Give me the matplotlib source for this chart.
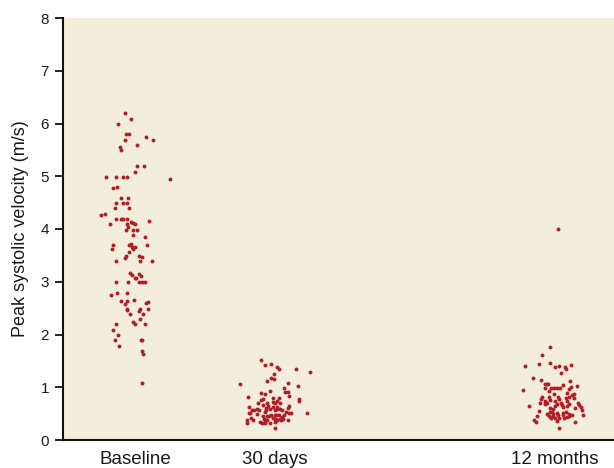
import matplotlib
matplotlib.use("Agg")
import matplotlib.pyplot as plt
import numpy as np

categories = ["Baseline", "30 days", "12 months"]
cat_positions = [0, 1, 3]

# Baseline: (jitter offset, peak systolic velocity m/s)
baseline_dx = [-0.074, -0.031, -0.121, -0.064, -0.045, 0.079, -0.069, 0.131, 0.016, -0.107,
               -0.102, 0.016, 0.064, 0.002, -0.207, -0.136, -0.084, -0.059, 0.25, -0.126,
               -0.155, -0.102, -0.048, -0.136, -0.084, -0.055, -0.145, -0.045, -0.245, -0.216,
               -0.136, -0.098, -0.084, -0.059, 0.098, -0.026, -0.012, 0.002, -0.176, -0.055,
               -0.05, -0.064, -0.012, 0.016, -0.016, 0.074, -0.155, -0.026, 0.084, -0.041,
               -0.164, -0.021, -0.012, 0.002, -0.041, -0.064, -0.074, 0.026, 0.05, -0.136,
               0.036, 0.121, -0.036, 0.031, -0.021, -0.002, 0.045, 0.006, -0.136, -0.05,
               0.031, 0.05, 0.074, -0.131, -0.059, -0.169, -0.098, -0.059, -0.074, -0.007,
               0.079, 0.093, -0.059, -0.055, 0.036, 0.026, 0.093, -0.036, 0.059, 0.036,
               -0.012, 0.002, 0.074, -0.136, -0.159, -0.121, -0.141, 0.041, 0.05, -0.116,
               0.05, 0.059, 0.05]
baseline_v = [6.19, 6.09, 5.99, 5.80, 5.80, 5.74, 5.69, 5.69, 5.59, 5.56,
              5.49, 5.19, 5.19, 5.09, 4.99, 4.99, 4.99, 4.99, 4.94, 4.79,
              4.77, 4.59, 4.59, 4.49, 4.49, 4.49, 4.39, 4.39, 4.27, 4.29,
              4.19, 4.19, 4.19, 4.19, 4.15, 4.13, 4.11, 4.09, 4.09, 4.09,
              4.04, 3.99, 3.99, 3.99, 3.89, 3.85, 3.70, 3.72, 3.70, 3.69,
              3.63, 3.65, 3.62, 3.65, 3.57, 3.49, 3.45, 3.49, 3.46, 3.40,
              3.39, 3.39, 3.17, 3.15, 3.12, 3.08, 3.11, 3.07, 2.99, 2.99,
              2.99, 2.99, 2.99, 2.79, 2.79, 2.75, 2.63, 2.63, 2.58, 2.65,
              2.59, 2.61, 2.49, 2.46, 2.49, 2.45, 2.49, 2.38, 2.39, 2.29,
              2.24, 2.19, 2.20, 2.19, 2.09, 2.00, 1.89, 1.89, 1.89, 1.79,
              1.69, 1.63, 1.09]

days30_dx = [-0.098, -0.074, -0.031, 0.012, 0.026, 0.15, 0.25, -0.007, -0.026, -0.007,
             -0.25, -0.059, 0.093, 0.164, 0.064, -0.036, 0.069, 0.093, -0.098, -0.069,
             0.098, -0.193, -0.012, 0.026, -0.084, -0.102, -0.059, -0.121, -0.012, 0.002,
             0.016, 0.036, 0.174, 0.169, -0.084, -0.05, -0.064, 0.102, 0.093, -0.188,
             -0.012, 0.016, -0.15, -0.131, -0.164, -0.112, -0.036, -0.002, 0.012, 0.036,
             0.05, -0.179, -0.188, -0.126, -0.064, -0.074, 0.079, 0.098, 0.112, 0.226,
             -0.084, -0.059, -0.041, -0.031, -0.002, 0.012, 0.026, 0.05, 0.064, -0.169,
             -0.159, -0.079, -0.074, -0.059, -0.016, 0.002, 0.016, 0.036, 0.055, 0.045,
             0.093, -0.198, -0.198, -0.107, -0.093, -0.074, -0.036, -0.002, 0.012, 0.002]
days30_v = [1.52, 1.42, 1.44, 1.39, 1.35, 1.34, 1.29, 1.25, 1.18, 1.16,
            1.07, 1.11, 1.09, 1.02, 0.99, 0.93, 0.91, 0.91, 0.90, 0.87,
            0.83, 0.82, 0.80, 0.80, 0.78, 0.75, 0.71, 0.70, 0.72, 0.71,
            0.73, 0.71, 0.77, 0.73, 0.66, 0.64, 0.61, 0.64, 0.61, 0.62,
            0.63, 0.63, 0.57, 0.58, 0.56, 0.56, 0.58, 0.56, 0.59, 0.59,
            0.56, 0.52, 0.51, 0.49, 0.57, 0.53, 0.53, 0.51, 0.51, 0.52,
            0.45, 0.45, 0.45, 0.47, 0.48, 0.47, 0.47, 0.44, 0.47, 0.42,
            0.38, 0.40, 0.37, 0.38, 0.42, 0.39, 0.37, 0.40, 0.39, 0.37,
            0.37, 0.37, 0.33, 0.34, 0.32, 0.33, 0.33, 0.34, 0.37, 0.23]

months12_dx = [-0.036, -0.093, -0.212, -0.112, -0.036, -0.002, 0.031, 0.074, 0.079, 0.116,
               0.045, -0.159, -0.102, 0.107, -0.069, -0.05, -0.059, 0.059, 0.159, -0.074,
               -0.026, -0.007, 0.012, 0.036, 0.102, 0.116, -0.231, -0.045, -0.007, 0.083,
               0.136, 0.121, 0.102, 0.079, -0.093, -0.098, -0.041, -0.036, 0.021, 0.031,
               0.136, -0.107, -0.074, -0.069, -0.059, 0.002, 0.012, -0.002, 0.045, 0.05,
               0.059, 0.083, 0.098, 0.088, 0.164, 0.174, 0.183, -0.188, -0.036, -0.012,
               -0.112, 0.141, 0.193, 0.202, -0.055, -0.036, -0.021, -0.012, 0.016, 0.055,
               0.079, 0.098, 0.121, -0.131, -0.15, -0.136, -0.041, -0.031, -0.016, -0.002,
               0.021, 0.026, 0.055, 0.064, 0.083, 0.102, 0.012, 0.145, 0.026, 0.021]
months12_v = [1.76, 1.61, 1.41, 1.44, 1.46, 1.38, 1.40, 1.38, 1.34, 1.43,
              1.27, 1.18, 1.14, 1.11, 1.07, 1.07, 1.06, 1.04, 1.02, 0.98,
              0.98, 0.98, 0.98, 0.98, 0.97, 1.00, 0.95, 0.92, 0.88, 0.90,
              0.88, 0.85, 0.82, 0.79, 0.82, 0.78, 0.82, 0.76, 0.82, 0.78,
              0.79, 0.70, 0.73, 0.69, 0.70, 0.74, 0.69, 0.64, 0.71, 0.66,
              0.63, 0.73, 0.68, 0.64, 0.70, 0.66, 0.63, 0.65, 0.61, 0.59,
              0.55, 0.60, 0.56, 0.47, 0.50, 0.53, 0.54, 0.49, 0.51, 0.51,
              0.53, 0.49, 0.47, 0.46, 0.38, 0.34, 0.46, 0.42, 0.45, 0.41,
              0.47, 0.42, 0.47, 0.42, 0.44, 0.46, 0.36, 0.34, 0.23, 4.00]

y_ticks = [0, 1, 2, 3, 4, 5, 6, 7, 8]
y_label = "Peak systolic velocity (m/s)"

dot_color = "#AE1F28"
bg_color = "#F3EEDB"

fig = plt.figure(figsize=(6.14, 4.68), dpi=100)
ax = fig.add_axes([63 / 614, 28 / 468, 551 / 614, 422 / 468])
ax.set_facecolor(bg_color)

groups = [(baseline_dx, baseline_v), (days30_dx, days30_v), (months12_dx, months12_v)]
for pos, (dx, v) in zip(cat_positions, groups):
    xs = pos + np.asarray(dx)
    ax.scatter(xs, v, s=8, color=dot_color, linewidths=0, zorder=3)

ax.set_xlim(-0.514, 3.421)
ax.set_ylim(0, 8)

for s in ["top", "right"]:
    ax.spines[s].set_visible(False)
for s in ["left", "bottom"]:
    ax.spines[s].set_linewidth(1.5)
    ax.spines[s].set_color("#111111")

ax.set_xticks(cat_positions)
ax.set_xticklabels(categories, fontsize=13.5, family=["Liberation Sans", "DejaVu Sans"], color="#1a1a1a")
ax.tick_params(axis="x", length=0, pad=8)

ax.set_yticks(y_ticks)
ax.set_yticklabels([str(t) for t in y_ticks], fontsize=11,
                   family=["Liberation Sans Narrow", "Liberation Sans"], color="#1a1a1a")
ax.tick_params(axis="y", length=6, width=1.3, pad=4, color="#111111")

ax.set_ylabel(y_label, fontsize=13, family=["Liberation Sans", "DejaVu Sans"], color="#1a1a1a", labelpad=8)

fig.savefig("out.png", dpi=100, facecolor="white")
